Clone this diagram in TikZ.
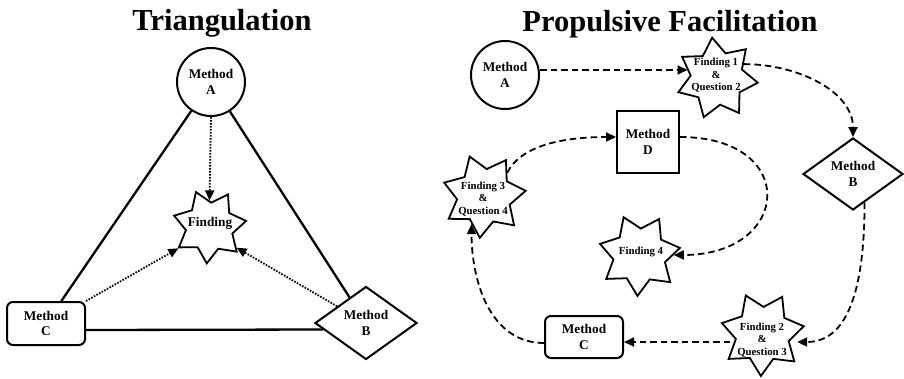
\documentclass[tikz,border=0pt]{standalone}
\usepackage{fontspec}
\setmainfont{Liberation Serif}
\usetikzlibrary{shapes.geometric,arrows.meta}
\begin{document}
\begin{tikzpicture}[x=1pt,y=-1pt,
  meth/.style={draw, line width=2pt, fill=white, align=center, inner sep=0pt,
    font=\fontsize{13.3}{15.5}\selectfont\bfseries},
  circ/.style={meth, circle, minimum size=68pt},
  rbox/.style={meth, rounded corners=6pt, minimum width=78pt, minimum height=42pt},
  sqbox/.style={meth, minimum size=62pt},
  dia/.style={meth, diamond, minimum width=102pt, minimum height=73pt},
  burst/.style={draw, line width=1.8pt, fill=white, star, star points=7,
    star point ratio=1.55, inner sep=0pt, minimum size=#1},
  btext/.style={align=center, inner sep=0pt, font=\fontsize{10.8}{12.5}\selectfont\bfseries},
  ttl/.style={font=\fontsize{30.5}{36}\selectfont\bfseries, anchor=base, inner sep=0pt},
  solid line/.style={line width=2.3pt},
  dotarrow/.style={line width=1.8pt, dash pattern=on 1.6pt off 1.4pt,
    -{Triangle[length=10pt,width=9pt]}},
  dasharrow/.style={line width=1.8pt, dash pattern=on 6.5pt off 4pt,
    -{Triangle[length=10pt,width=9pt]}}
]
\useasboundingbox (0,0) rectangle (904,378);

% ---------- Triangulation ----------
\node[ttl] (t1) at (222,30) {Triangulation};
\node[circ] (LA) at (211,82) {Method\\A};
\node[rbox, minimum height=43pt] (LC) at (46,323.5) {Method\\C};
\node[dia] (LB) at (366,323) {Method\\B};
\node[burst=74pt, shape border rotate=21.5] (LF) at (209.5,226.5) {};
\node[btext, font=\fontsize{13.3}{15}\selectfont\bfseries] (LFt) at (210,223) {Finding};

\draw[solid line] (LA) -- (LC);
\draw[solid line] (LA) -- (LB);
\draw[solid line] ([yshift=-6.5pt]LC.east) -- ([xshift=9pt,yshift=-6.5pt]LB.west);
\draw[dotarrow] (LA.south) -- (LF.north);
\draw[dotarrow] (LC.north east) -- (LF.-145);
\draw[dotarrow] (LB.150) -- (LF.-38);

% ---------- Propulsive Facilitation ----------
\node[ttl] (t2) at (670,31) {Propulsive Facilitation};
\node[circ] (RA) at (505,75) {Method\\A};
\node[burst=82pt, shape border rotate=6.8] (F1) at (717,78.4) {};
\node[btext] (F1t) at (716,75.5) {Finding 1\\\&\\Question 2};
\node[dia, minimum width=100pt, minimum height=72pt] (RB) at (853,174) {Method\\B};
\node[sqbox] (RD) at (648,142) {Method\\D};
\node[burst=84pt, shape border rotate=20] (F3) at (484,196) {};
\node[btext] (F3t) at (483,199) {Finding 3\\\&\\Question 4};
\node[burst=82pt, shape border rotate=22.8] (F4) at (639.5,255) {};
\node[btext] (F4t) at (641,252) {Finding 4};
\node[burst=84pt, shape border rotate=23.5] (F2) at (762.5,334) {};
\node[btext] (F2t) at (762,340) {Finding 2\\\&\\Question 3};
\node[rbox] (RC) at (584,337) {Method\\C};

\draw[dasharrow] ([yshift=5pt]RA.east) -- ([yshift=8.4pt]F1.west);
\draw[dasharrow] (F1.28) .. controls +(55,0) and +(0,-45) .. (RB.north);
\draw[dasharrow] (RB.-68) .. controls +(0,120) and +(35,0) .. ([yshift=-8pt]F2.east);
\draw[dasharrow] ([yshift=-8pt]F2.west) -- ([yshift=-5pt]RC.east);
\draw[dasharrow] ([yshift=-6pt]RC.west) .. controls +(-55,0) and +(0,55) .. (F3.-114);
\draw[dasharrow] (F3.45) .. controls +(15,-30) and +(-45,0) .. ([yshift=5pt]RD.west);
\draw[dasharrow] ([yshift=5pt]RD.east) .. controls +(120,0) and +(118,0) .. (F4.east);
\end{tikzpicture}
\end{document}
